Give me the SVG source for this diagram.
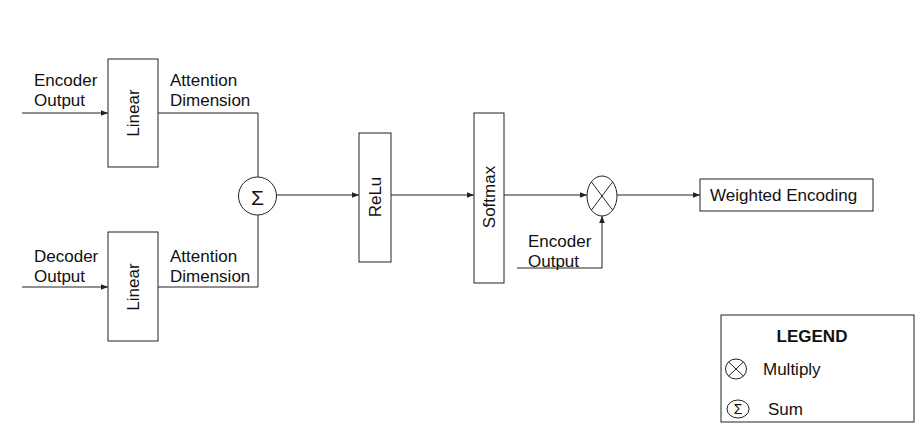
<svg xmlns="http://www.w3.org/2000/svg" width="923" height="433" viewBox="0 0 923 433">
<defs>
<marker id="ah" viewBox="0 0 10 10" refX="10" refY="5" markerWidth="7" markerHeight="7" orient="auto" markerUnits="userSpaceOnUse">
<path d="M0,1 L10,5 L0,9 Z" fill="#222"/>
</marker>
<style>
text{font-family:"Liberation Sans",Arial,sans-serif;font-size:17px;fill:#111}
.box{fill:#fff;stroke:#222;stroke-width:1}
.ln{fill:none;stroke:#222;stroke-width:1}
.arr{fill:none;stroke:#222;stroke-width:1;marker-end:url(#ah)}
.mid{text-anchor:middle;dominant-baseline:central}
</style>
</defs>
<rect width="923" height="433" fill="#fff"/>
<g id="connectors">
<line class="arr" x1="22" y1="113" x2="108" y2="113"/>
<line class="arr" x1="22" y1="287" x2="108" y2="287"/>
<polyline class="ln" points="158,113 258,113 258,177"/>
<polyline class="ln" points="158,287 258,287 258,215"/>
<line class="arr" x1="277" y1="195" x2="359" y2="195"/>
<line class="arr" x1="391" y1="195" x2="474" y2="195"/>
<line class="arr" x1="504" y1="195" x2="587" y2="195"/>
<line class="arr" x1="617" y1="195" x2="700" y2="195"/>
<polyline class="arr" points="517,268 602,268 602,216"/>
</g>
<g id="label-enc-out">
<text x="34" y="86">Encoder</text>
<text x="34" y="106">Output</text>
</g>
<g id="label-dec-out">
<text x="34" y="262">Decoder</text>
<text x="34" y="282">Output</text>
</g>
<g id="label-att1">
<text x="170" y="86">Attention</text>
<text x="170" y="106">Dimension</text>
</g>
<g id="label-att2">
<text x="170" y="262">Attention</text>
<text x="170" y="282">Dimension</text>
</g>
<g id="label-enc-out2">
<text x="528" y="247">Encoder</text>
<text x="528" y="267">Output</text>
</g>
<g id="linear1">
<rect class="box" x="108" y="59" width="50" height="108"/>
<text class="mid" transform="translate(133,113) rotate(-90)">Linear</text>
</g>
<g id="linear2">
<rect class="box" x="108" y="232" width="50" height="109"/>
<text class="mid" transform="translate(133,287) rotate(-90)">Linear</text>
</g>
<g id="sum">
<circle class="box" cx="257.5" cy="196" r="19"/>
<text class="mid" x="257.5" y="197" style="font-size:21px">Σ</text>
</g>
<g id="relu">
<rect class="box" x="359" y="133" width="32" height="129"/>
<text class="mid" transform="translate(375,197) rotate(-90)">ReLu</text>
</g>
<g id="softmax">
<rect class="box" x="474" y="113" width="30" height="170"/>
<text class="mid" transform="translate(489,197) rotate(-90)">Softmax</text>
</g>
<g id="multiply">
<ellipse class="box" cx="602" cy="196" rx="15" ry="20"/>
<line class="ln" x1="591.4" y1="181.9" x2="612.6" y2="210.1"/>
<line class="ln" x1="612.6" y1="181.9" x2="591.4" y2="210.1"/>
</g>
<g id="weighted">
<rect class="box" x="700" y="179" width="173" height="32"/>
<text x="710" y="201">Weighted Encoding</text>
</g>
<g id="legend">
<rect class="box" x="721" y="315" width="193" height="107"/>
<text x="812" y="342" style="font-weight:bold;text-anchor:middle">LEGEND</text>
<ellipse class="ln" cx="736" cy="369" rx="10.5" ry="10"/>
<line class="ln" x1="728.6" y1="361.9" x2="743.4" y2="376.1"/>
<line class="ln" x1="743.4" y1="361.9" x2="728.6" y2="376.1"/>
<text x="763" y="375">Multiply</text>
<ellipse class="ln" cx="738" cy="409" rx="11" ry="9"/>
<text class="mid" x="738" y="409" style="font-size:14px">Σ</text>
<text x="768" y="415">Sum</text>
</g>
</svg>
